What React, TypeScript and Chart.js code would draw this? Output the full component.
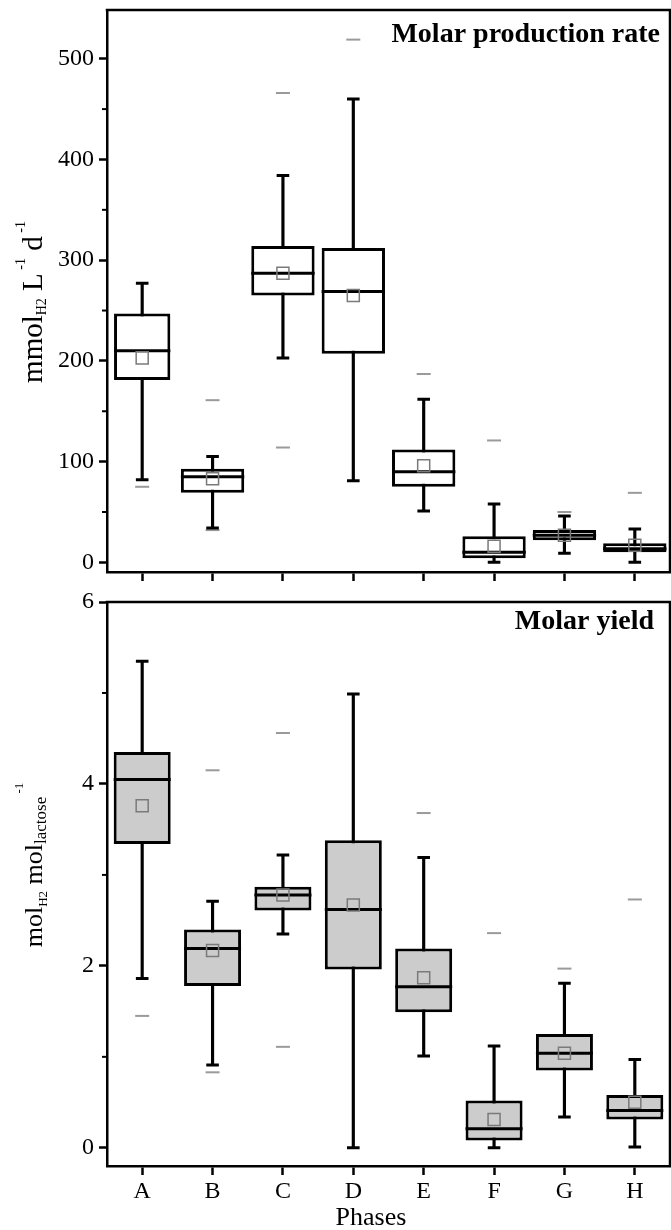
import React, { useEffect, useRef } from "react";
import { Chart, registerables } from "chart.js";

Chart.register(...registerables);

// ---------- DATA ----------
const phases = ["A", "B", "C", "D", "E", "F", "G", "H"];

// Top panel: molar production rate (mmol_H2 L^-1 d^-1)
const rateWhiskerLow = [82, 34, 203, 81, 51, 0, 9, 0];
const rateQ1 = [181, 69, 265, 207, 75, 4, 22, 10];
const rateMedian = [210, 85, 287, 269, 90, 10, 27, 13.5];
const rateQ3 = [247, 93, 314, 312, 112, 26, 32, 19];
const rateWhiskerHigh = [277, 105, 384, 460, 162, 58, 46, 33];
const rateMean = [203, 83, 287, 265, 96, 16, 27, 17];
const rateMinMark = [75, 32, 114, null, null, null, null, null];
const rateMaxMark = [null, 161, 466, 519, 187, 121, 50, 69];
const rateTicks = [0, 100, 200, 300, 400, 500];
const rateMinorTicks = [50, 150, 250, 350, 450];

// Bottom panel: molar yield (mol_H2 mol_lactose^-1)
const yieldWhiskerLow = [1.86, 0.91, 2.35, 0, 1.01, 0, 0.34, 0.01];
const yieldQ1 = [3.34, 1.78, 2.61, 1.96, 1.49, 0.08, 0.85, 0.31];
const yieldMedian = [4.05, 2.19, 2.78, 2.62, 1.77, 0.21, 1.04, 0.41];
const yieldQ3 = [4.35, 2.4, 2.87, 3.38, 2.19, 0.52, 1.25, 0.58];
const yieldWhiskerHigh = [5.35, 2.71, 3.22, 4.99, 3.19, 1.12, 1.81, 0.97];
const yieldMean = [3.76, 2.17, 2.78, 2.67, 1.87, 0.31, 1.04, 0.5];
const yieldMinMark = [1.45, 0.83, 1.11, null, null, null, null, null];
const yieldMaxMark = [null, 4.15, 4.56, null, 3.68, 2.36, 1.97, 2.73];
const yieldTicks = [0, 2, 4, 6];
const yieldMinorTicks = [1, 3, 5];

// ---------- STYLE ----------
const rateBoxWidth = [0.8, 0.9, 0.9, 0.9, 0.9, 0.9, 0.9, 0.9];
const yieldBoxWidth = [0.81, 0.81, 0.81, 0.81, 0.81, 0.81, 0.81, 0.81];
const FONT = '"Liberation Serif", "Times New Roman", serif';

type Seg = { text: string; size: number; shift: number };

function drawRotatedRich(ctx: CanvasRenderingContext2D, segs: Seg[], cx: number, cy: number) {
  ctx.save();
  ctx.translate(cx, cy);
  ctx.rotate(-Math.PI / 2);
  ctx.textBaseline = "alphabetic";
  ctx.textAlign = "left";
  ctx.fillStyle = "#000";
  let total = 0;
  const widths = segs.map((s) => {
    ctx.font = `${s.size}px ${FONT}`;
    const w = ctx.measureText(s.text).width;
    total += w;
    return w;
  });
  let x = -total / 2;
  segs.forEach((s, i) => {
    ctx.font = `${s.size}px ${FONT}`;
    ctx.fillText(s.text, x, -s.shift);
    x += widths[i];
  });
  ctx.restore();
}

type PanelCfg = {
  low: number[];
  q1: number[];
  med: number[];
  q3: number[];
  high: number[];
  mean: number[];
  minMark: (number | null)[];
  maxMark: (number | null)[];
  ticks: number[];
  minor: number[];
  yMin: number;
  yMax: number;
  boxWidth: number[];
  fill: string;
  title: string;
  titleRightInset: number;
  titleBaseline: number;
  yTitle: Seg[];
  yTitleCenter: number;
  showLabels: boolean;
  padTop: number;
  xAxisHeight: number;
  xTitle?: string;
};

function buildChart(canvas: HTMLCanvasElement, p: PanelCfg) {
  const n = phases.length;
  const widthsUnique = Array.from(new Set(p.boxWidth));
  const boxDatasets = widthsUnique.map((w) => ({
    type: "bar" as const,
    data: phases.map((_, i) => (p.boxWidth[i] === w ? [p.q1[i], p.q3[i]] : null)),
    backgroundColor: p.fill,
    borderColor: "#000",
    borderWidth: 3,
    borderSkipped: false,
    grouped: false,
    barPercentage: w,
    categoryPercentage: 1,
  }));

  const pointDs = (data: (number | null)[], style: string, radius: any, color: string, bw: number) => ({
    type: "line" as const,
    data,
    showLine: false,
    pointStyle: style,
    pointRadius: radius,
    pointHoverRadius: radius,
    pointBorderColor: color,
    pointBackgroundColor: "rgba(0,0,0,0)",
    pointBorderWidth: bw,
    pointHoverBorderWidth: bw,
  });

  const medianRadius = (c: any) => {
    const xs = c.chart.scales.x;
    return ((xs.width / n) * p.boxWidth[c.dataIndex]) / 2;
  };

  const datasets: any[] = [
    pointDs(p.mean, "rect", 8.5, "#7a7a7a", 1.5),
    pointDs(p.med, "line", medianRadius, "#000", 3),
    pointDs(p.low, "line", 6.3, "#000", 3),
    pointDs(p.high, "line", 6.3, "#000", 3),
    pointDs(p.minMark, "line", 7, "#9a9a9a", 2),
    pointDs(p.maxMark, "line", 7, "#9a9a9a", 2),
    ...boxDatasets,
    {
      type: "bar" as const,
      data: phases.map((_, i) => [p.low[i], p.high[i]]),
      backgroundColor: "#000",
      borderWidth: 0,
      grouped: false,
      barThickness: 2.5,
    },
  ];

  const decor = {
    id: "decor",
    afterDraw(chart: any) {
      const ctx: CanvasRenderingContext2D = chart.ctx;
      const a = chart.chartArea;
      const ys = chart.scales.y;
      ctx.save();
      // frame: top and right
      ctx.strokeStyle = "#000";
      ctx.lineWidth = 2.5;
      ctx.beginPath();
      ctx.moveTo(a.left - 1.25, a.top);
      ctx.lineTo(a.right, a.top);
      ctx.lineTo(a.right, a.bottom);
      ctx.stroke();
      // minor ticks
      ctx.lineWidth = 2;
      p.minor.forEach((v) => {
        const y = ys.getPixelForValue(v);
        ctx.beginPath();
        ctx.moveTo(a.left - 5, y);
        ctx.lineTo(a.left, y);
        ctx.stroke();
      });
      // panel title
      ctx.fillStyle = "#000";
      ctx.font = `bold 28px ${FONT}`;
      ctx.textAlign = "right";
      ctx.textBaseline = "alphabetic";
      ctx.fillText(p.title, a.right - p.titleRightInset, a.top + p.titleBaseline);
      // x title
      if (p.xTitle) {
        ctx.font = `26px ${FONT}`;
        ctx.textAlign = "center";
        ctx.fillText(p.xTitle, a.left + 264, chart.height - 5);
      }
      ctx.restore();
      drawRotatedRich(ctx, p.yTitle, 42, p.yTitleCenter);
    },
  };

  return new Chart(canvas, {
    type: "bar",
    data: { labels: phases, datasets },
    options: {
      animation: false,
      responsive: false,
      maintainAspectRatio: false,
      events: [],
      layout: { padding: { top: p.padTop, right: 8, left: 0, bottom: 0 } },
      plugins: { legend: { display: false }, tooltip: { enabled: false }, title: { display: false } },
      scales: {
        x: {
          type: "category",
          offset: true,
          grid: {
            offset: false,
            drawOnChartArea: false,
            drawTicks: true,
            tickLength: 9,
            tickWidth: 2.5,
            tickColor: "#000",
          },
          border: { display: true, color: "#000", width: 2.5 },
          ticks: {
            display: p.showLabels,
            color: "#000",
            font: { family: FONT, size: 24 },
            padding: 2,
            maxRotation: 0,
            autoSkip: false,
          },
          afterFit: (s: any) => {
            s.height = p.xAxisHeight;
            s.paddingLeft = 0;
            s.paddingRight = 0;
          },
        },
        y: {
          type: "linear",
          min: p.yMin,
          max: p.yMax,
          afterBuildTicks: (s: any) => {
            s.ticks = p.ticks.map((v) => ({ value: v }));
          },
          grid: {
            drawOnChartArea: false,
            drawTicks: true,
            tickLength: 8,
            tickWidth: 2.5,
            tickColor: "#000",
          },
          border: { display: true, color: "#000", width: 2.5 },
          ticks: {
            color: "#000",
            font: { family: FONT, size: 24 },
            padding: 5,
          },
          afterFit: (s: any) => {
            s.width = 107;
            s.paddingTop = 0;
            s.paddingBottom = 0;
          },
        },
      },
    } as any,
    plugins: [decor],
  });
}

const topCfg: PanelCfg = {
  low: rateWhiskerLow,
  q1: rateQ1,
  med: rateMedian,
  q3: rateQ3,
  high: rateWhiskerHigh,
  mean: rateMean,
  minMark: rateMinMark,
  maxMark: rateMaxMark,
  ticks: rateTicks,
  minor: rateMinorTicks,
  yMin: -9.6,
  yMax: 548.4,
  boxWidth: rateBoxWidth,
  fill: "#ffffff",
  title: "Molar production rate",
  titleRightInset: 10,
  titleBaseline: 32,
  yTitle: [
    { text: "mmol", size: 29, shift: 0 },
    { text: "H2", size: 14, shift: -4 },
    { text: " L", size: 29, shift: 0 },
    { text: " -1", size: 14, shift: 17 },
    { text: " d", size: 29, shift: 0 },
    { text: " -1", size: 14, shift: 17 },
  ],
  yTitleCenter: 302,
  showLabels: false,
  padTop: 10,
  xAxisHeight: 28,
};

const bottomCfg: PanelCfg = {
  low: yieldWhiskerLow,
  q1: yieldQ1,
  med: yieldMedian,
  q3: yieldQ3,
  high: yieldWhiskerHigh,
  mean: yieldMean,
  minMark: yieldMinMark,
  maxMark: yieldMaxMark,
  ticks: yieldTicks,
  minor: yieldMinorTicks,
  yMin: -0.2,
  yMax: 6,
  boxWidth: yieldBoxWidth,
  fill: "#cccccc",
  title: "Molar yield",
  titleRightInset: 16,
  titleBaseline: 27,
  yTitle: [
    { text: "mol", size: 26, shift: 0 },
    { text: "H2", size: 13, shift: -5 },
    { text: " mol", size: 26, shift: 0 },
    { text: "lactose", size: 17, shift: -4 },
    { text: " -1", size: 13, shift: 19 },
  ],
  yTitleCenter: 275,
  showLabels: true,
  padTop: 12,
  xAxisHeight: 64,
  xTitle: "Phases",
};

export default function App() {
  const topRef = useRef<HTMLCanvasElement>(null);
  const botRef = useRef<HTMLCanvasElement>(null);

  useEffect(() => {
    const c1 = buildChart(topRef.current!, topCfg);
    const c2 = buildChart(botRef.current!, bottomCfg);
    return () => {
      c1.destroy();
      c2.destroy();
    };
  }, []);

  return (
    <div
      style={{
        position: "absolute",
        left: 0,
        top: 0,
        width: 671,
        height: 1230,
        overflow: "hidden",
        background: "#fff",
      }}
    >
      <canvas ref={topRef} width={680} height={600} style={{ position: "absolute", left: 0, top: 0 }} />
      <canvas ref={botRef} width={680} height={640} style={{ position: "absolute", left: 0, top: 590 }} />
    </div>
  );
}
